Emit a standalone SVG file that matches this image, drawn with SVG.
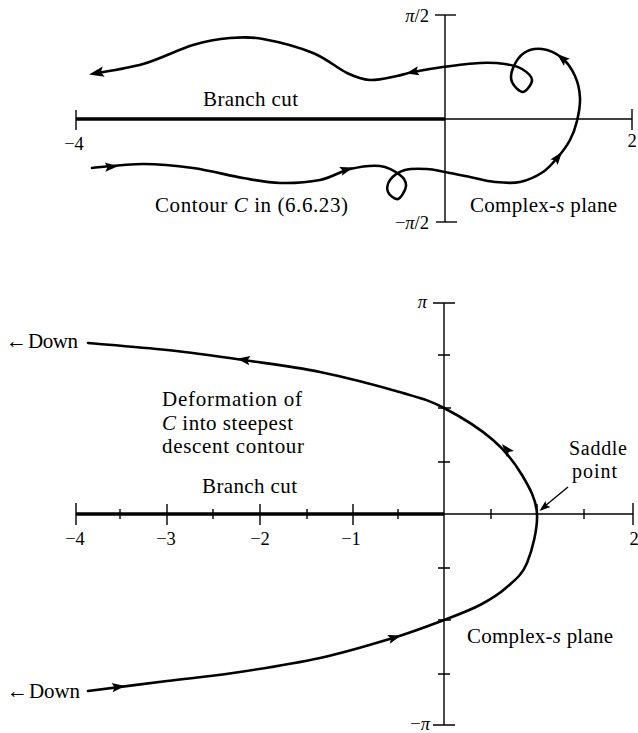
<svg xmlns="http://www.w3.org/2000/svg" xmlns:xlink="http://www.w3.org/1999/xlink" width="638" height="733" viewBox="0 0 638 733">
<style>
.ax{stroke:#000;stroke-width:1.4;fill:none}
.cut{stroke:#000;stroke-width:3.6;fill:none}
.cv{stroke:#000;stroke-width:2.6;fill:none;stroke-linecap:round;stroke-linejoin:round}
.t{font-family:"Liberation Serif","Times New Roman",serif;font-size:21px;fill:#000}
.s{font-size:20px}
.n{font-family:"Liberation Serif","Times New Roman",serif;font-size:18.5px;fill:#000}
.i{font-style:italic}
</style>
<defs>
<path id="ah" d="M0,0 L-13,-4.6 L-10.5,0 L-13,4.6 Z" fill="#000"/>
</defs>
<rect width="638" height="733" fill="#fff"/>

<g id="top-axes">
<line class="cut" x1="76" y1="119" x2="445" y2="119"/>
<line class="ax" x1="445" y1="119" x2="632" y2="119"/>
<line class="ax" x1="76" y1="110" x2="76" y2="130"/>
<line class="ax" x1="632" y1="109" x2="632" y2="130"/>
<line class="ax" x1="445" y1="15" x2="445" y2="222"/>
<line class="ax" x1="435" y1="15" x2="456" y2="15"/>
<line class="ax" x1="436" y1="222" x2="457" y2="222"/>
<text class="n" x="429" y="22" text-anchor="end"><tspan class="i">π</tspan>/2</text>
<text class="n" x="429" y="229" text-anchor="end">−<tspan class="i">π</tspan>/2</text>
<text class="n" x="74" y="150" text-anchor="middle">−4</text>
<text class="n" x="632" y="147" text-anchor="middle">2</text>
</g>

<g id="top-labels">
<text class="t" x="203" y="106" textLength="95">Branch cut</text>
<text class="t" x="155" y="212" textLength="193">Contour <tspan class="i">C</tspan> in (6.6.23)</text>
<text class="t" x="470" y="212" textLength="147">Complex-<tspan class="i">s</tspan> plane</text>
</g>

<g id="top-contour">
<path class="cv" d="M92,168 C100.5,167.3 126.2,164 143,164 S176.3,165.7 193,168 S228.5,175.5 243,178 S267.2,182.7 280,183 S308.3,182.3 320,180 S340,171.3 350,169 S371.7,165 380,166 S395.7,171.7 400,175 S406.3,182 406,186 S401,198 398,199 S389.3,195.2 388,192 S387.2,183.7 390,180 S398.8,171.8 405,170 S420.3,168.7 427,169 S437.8,170.7 445,172 S461.7,175.3 470,177 S486.7,181.2 495,182 S512,183.7 520,182 S536.7,176.2 543,172 S553.5,162.3 558,157 S566.8,146 570,140 S575.3,128 577,121 S580.3,105.5 580,98 S578,82.7 575,76 S567.5,62.5 562,58 S548.3,49.8 542,49 S528.8,49.8 524,53 S515,63.2 513,68 S510.3,78 512,82 S519.7,92.3 523,92 S532.2,83.8 532,80 S526.5,71.7 522,69 S512,65 505,64 S490.3,62.5 480,63 S454.2,65.5 443,67 S420.7,70.5 413,72 S404.2,74.7 397,76 S378.3,80.5 370,80 S356.5,77.5 347,73 S327,58.7 313,53 S276.8,41.5 263,39 S241.7,37 230,38 S207.5,40.7 193,45 S159.8,59.2 143,64 S100.5,72.3 94,73.6"/>
<use xlink:href="#ah" transform="translate(118,166.3) rotate(-4)"/>
<use xlink:href="#ah" transform="translate(353,167.6) rotate(-17)"/>
<use xlink:href="#ah" transform="translate(562,152) rotate(-52)"/>
<use xlink:href="#ah" transform="translate(557,54) rotate(-140)"/>
<use xlink:href="#ah" transform="translate(406,73.5) rotate(168)"/>
<use xlink:href="#ah" transform="translate(89,74.5) rotate(169) scale(1.15)"/>
</g>

<g id="bottom-axes">
<line class="cut" x1="76" y1="514" x2="444" y2="514"/>
<line class="ax" x1="444" y1="514" x2="633" y2="514"/>
<line class="ax" x1="444" y1="303" x2="444" y2="725"/>
<path class="ax" d="M76,503V525 M167,504V525 M260,504V525 M353,504V525 M537,504V525 M633,503V525 M120,509V519 M213,509V519 M307,509V519 M398,509V519 M491,509V519 M584,509V519"/>
<path class="ax" d="M433,303H455 M433,725H455 M438,355H450 M438,408H451 M438,462H450 M438,568H450 M438,620H451 M438,674H450"/>
<text class="n" x="427" y="308" text-anchor="end"><tspan class="i">π</tspan></text>
<text class="n" x="430" y="730" text-anchor="end">−<tspan class="i">π</tspan></text>
<text class="n" x="75" y="545" text-anchor="middle">−4</text>
<text class="n" x="166" y="545" text-anchor="middle">−3</text>
<text class="n" x="260" y="545" text-anchor="middle">−2</text>
<text class="n" x="351" y="545" text-anchor="middle">−1</text>
<text class="n" x="634" y="545" text-anchor="middle">2</text>
</g>

<g id="bottom-labels">
<text class="t" x="6" y="348">←</text>
<text class="t" x="28" y="348" textLength="50">Down</text>
<text class="t" x="7" y="698">←</text>
<text class="t" x="29" y="698" textLength="51">Down</text>
<text class="t" x="162" y="406" textLength="140">Deformation of</text>
<text class="t" x="162" y="430" textLength="131"><tspan class="i">C</tspan> into steepest</text>
<text class="t" x="162" y="453" textLength="142">descent contour</text>
<text class="t" x="202" y="493" textLength="95">Branch cut</text>
<text class="t s" x="569" y="455" textLength="58">Saddle</text>
<text class="t s" x="572" y="478" textLength="45">point</text>
<text class="t" x="467" y="643" textLength="146">Complex-<tspan class="i">s</tspan> plane</text>
</g>

<g id="bottom-contour">
<path class="cv" d="M88,691 C101.2,689.3 142.8,684 167,681 S207.5,676.8 233,673 S293.3,663.8 320,658 S372.3,644.3 393,638 S429.5,625.5 444,620 S469.5,610.5 480,605 S499.2,594 507,587 S522,575.2 527,563 S537.8,528.7 537,514 S529.3,487.3 522,475 S506,451.2 493,440 S459,415.8 444,408 S423.7,399 403,393 S346.7,377.5 320,372 S268.5,363.7 243,360 S192.8,352.8 167,350 S101.2,344.2 88,343"/>
<use xlink:href="#ah" transform="translate(125,686) rotate(-7)"/>
<use xlink:href="#ah" transform="translate(401,635.5) rotate(-17)"/>
<use xlink:href="#ah" transform="translate(502,444) rotate(-130)"/>
<use xlink:href="#ah" transform="translate(237,358.8) rotate(-172)"/>
</g>

<g id="saddle-pointer">
<line class="ax" x1="568" y1="487" x2="545" y2="506"/>
<use xlink:href="#ah" transform="translate(539.5,511) rotate(140) scale(0.85)"/>
</g>
</svg>
